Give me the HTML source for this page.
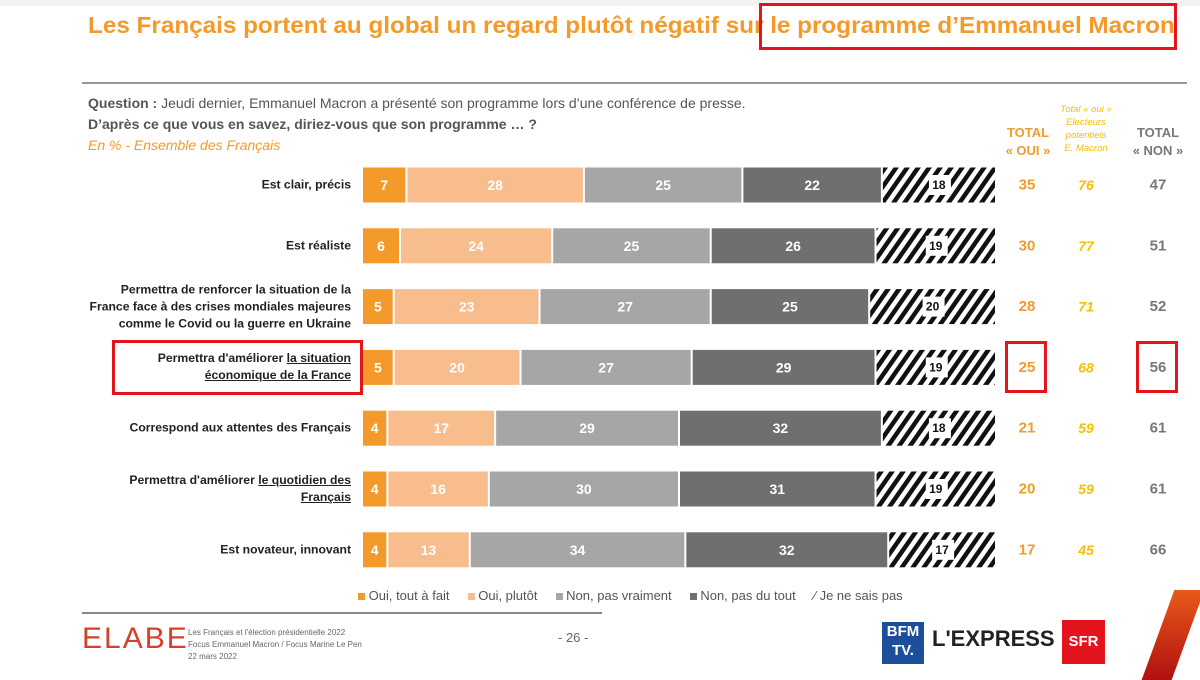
<!DOCTYPE html>
<html><head><meta charset="utf-8"><style>
body{margin:0;width:1200px;height:667px;background:#fff;font-family:"Liberation Sans",sans-serif;overflow:hidden;position:relative}
.a{position:absolute}
</style></head><body>
<div class="a" style="left:0;top:0;width:1200px;height:6px;background:#f2f2f2"></div>
<div class="a" style="left:88px;top:12px;font-size:23px;font-weight:bold;color:#f39a2a;white-space:nowrap;transform:scaleX(1.055);transform-origin:left">Les Français portent au global un regard plutôt négatif sur le programme d’Emmanuel Macron</div>
<div class="a" style="left:759px;top:3px;width:418px;height:47px;border:3px solid #e3141b;box-sizing:border-box"></div>
<div class="a" style="left:82px;top:82px;width:1105px;height:2px;background:#999"></div>
<div class="a" style="left:88px;top:93px;font-size:14px;color:#555;line-height:21px">
<b>Question :</b> Jeudi dernier, Emmanuel Macron a présenté son programme lors d’une conférence de presse.<br>
<b>D’après ce que vous en savez, diriez-vous que son programme … ?</b><br>
<i style="color:#f39a2a">En % - Ensemble des Français</i></div>
<div class="a" style="left:1000px;top:124px;width:56px;text-align:center;font-size:13px;font-weight:bold;color:#f39a2a;line-height:18px">TOTAL<br>« OUI »</div>
<div class="a" style="left:1058px;top:103px;width:56px;text-align:center;font-size:9.5px;font-style:italic;color:#f5c000;line-height:13px">Total « oui »<br>Electeurs<br>potentiels<br>E. Macron</div>
<div class="a" style="left:1128px;top:124px;width:60px;text-align:center;font-size:13px;font-weight:bold;color:#777;line-height:18px">TOTAL<br>« NON »</div>
<svg class="a" style="left:0;top:0" width="1200" height="667">
<defs><pattern id="hatch" width="9" height="9" patternUnits="userSpaceOnUse" patternTransform="rotate(35)"><rect width="9" height="9" fill="#fff"/><rect width="4.5" height="9" fill="#111"/></pattern></defs>
<g id="g"></g></svg>
<div class="a" style="left:112px;top:340px;width:251px;height:55px;border:3px solid #e3141b;box-sizing:border-box"></div>
<div class="a" style="left:1005px;top:341px;width:42px;height:52px;border:3px solid #e3141b;box-sizing:border-box"></div>
<div class="a" style="left:1136px;top:341px;width:42px;height:52px;border:3px solid #e3141b;box-sizing:border-box"></div>
<div class="a" style="left:358px;top:588px;font-size:13px;color:#555;white-space:nowrap">
<span><span style="display:inline-block;width:7px;height:7px;background:#f39a2a"></span> Oui, tout à fait</span>&nbsp;&nbsp;&nbsp;&nbsp;
<span><span style="display:inline-block;width:7px;height:7px;background:#f8bd8c"></span> Oui, plutôt</span>&nbsp;&nbsp;&nbsp;&nbsp;
<span><span style="display:inline-block;width:7px;height:7px;background:#a6a6a6"></span> Non, pas vraiment</span>&nbsp;&nbsp;&nbsp;&nbsp;
<span><span style="display:inline-block;width:7px;height:7px;background:#6f6f6f"></span> Non, pas du tout</span>&nbsp;&nbsp;&nbsp;&nbsp;
<span>⁄ Je ne sais pas</span></div>
<div class="a" style="left:82px;top:612px;width:520px;height:2px;background:#888"></div>
<div class="a" style="left:82px;top:622px;font-size:30px;letter-spacing:2px;color:#d4402a">ELABE</div>
<div class="a" style="left:188px;top:627px;font-size:8px;color:#666;line-height:12px">Les Français et l'élection présidentielle 2022<br>Focus Emmanuel Macron / Focus Marine Le Pen<br>22 mars 2022</div>
<div class="a" style="left:558px;top:630px;font-size:13px;color:#666">- 26 -</div>
<div class="a" style="left:882px;top:622px;width:42px;height:42px;background:#1b4f9c;color:#fff;font-weight:bold;font-size:15px;line-height:19px;text-align:center">BFM<br>TV.</div>
<div class="a" style="left:932px;top:626px;font-size:22px;font-weight:bold;color:#222">L'EXPRESS</div>
<div class="a" style="left:1062px;top:620px;width:43px;height:44px;background:#e3141b;color:#fff;font-weight:bold;font-size:15px;line-height:44px;text-align:center">SFR</div>
<div class="a" style="left:1158px;top:590px;width:30px;height:90px;background:linear-gradient(#e85a1a,#b01010);transform:skewX(-20deg)"></div>
<script>
const labels=["Est clair, précis","Est réaliste","Permettra de renforcer la situation de la<br>France face à des crises mondiales majeures<br>comme le Covid ou la guerre en Ukraine","Permettra d'améliorer <u>la situation</u><br><u>économique de la France</u>","Correspond aux attentes des Français","Permettra d'améliorer <u>le quotidien des</u><br><u>Français</u>","Est novateur, innovant"];
const ouiTout=[7,6,5,5,4,4,4];
const ouiPlutot=[28,24,23,20,17,16,13];
const nonVraiment=[25,25,27,27,29,30,34];
const nonDuTout=[22,26,25,29,32,31,32];
const nsp=[18,19,20,19,18,19,17];
const totalOui=[35,30,28,25,21,20,17];
const macronOui=[76,77,71,68,59,59,45];
const totalNon=[47,51,52,56,61,61,66];
const x0=363,scale=6.34,rowY0=185,rowStep=60.8,bh=35;
const xs=v=>v*scale;const ys=i=>rowY0+i*rowStep;
const g=document.getElementById('g');const NS='http://www.w3.org/2000/svg';
const series=[[ouiTout,'#f39a2a','#fff','seg-oui-tout'],[ouiPlutot,'#f8bd8c','#fff','seg-oui-plutot'],[nonVraiment,'#a6a6a6','#fff','seg-non-pas-vraiment'],[nonDuTout,'#6f6f6f','#fff','seg-non-pas-du-tout'],[nsp,'url(#hatch)','#111','seg-nsp']];
function t(x,y,s,fill,size,name,extra){const e=document.createElementNS(NS,'text');e.setAttribute('x',x);e.setAttribute('y',y);e.setAttribute('text-anchor','middle');e.setAttribute('dominant-baseline','central');e.setAttribute('fill',fill);e.setAttribute('font-size',size);e.setAttribute('font-weight','bold');if(extra)e.setAttribute('font-style',extra);e.textContent=s;


g.appendChild(e);}
labels.forEach((lb,i)=>{const cy=ys(i);let x=x0;
const d=document.createElement('div');d.className='a';d.innerHTML=lb;d.style.cssText=`right:${1200-351}px;top:${cy}px;transform:translateY(-50%);text-align:right;font-size:12.2px;font-weight:bold;color:#222;line-height:17px;white-space:nowrap`;


document.body.appendChild(d);
series.forEach(([arr,col,tc,nm])=>{const w=xs(arr[i]);const r=document.createElementNS(NS,'rect');r.setAttribute('x',x);r.setAttribute('y',cy-bh/2);r.setAttribute('width',w-2);r.setAttribute('height',bh);r.setAttribute('fill',col);


g.appendChild(r);
if(nm==='seg-nsp'){const b=document.createElementNS(NS,'rect');b.setAttribute('x',x+w/2-11);b.setAttribute('y',cy-10);b.setAttribute('width',22);b.setAttribute('height',20);b.setAttribute('fill','#fff');


g.appendChild(b);}
t(x+w/2-1,cy,arr[i],tc,nm==='seg-nsp'?12:14,'segment-value');x+=w;});
t(1027,cy,totalOui[i],'#f39a2a',15,'total-oui-value');
t(1086,cy,macronOui[i],'#f5c000',14,'macron-oui-value','italic');
t(1158,cy,totalNon[i],'#777',15,'total-non-value');});
</script>
</body></html>
